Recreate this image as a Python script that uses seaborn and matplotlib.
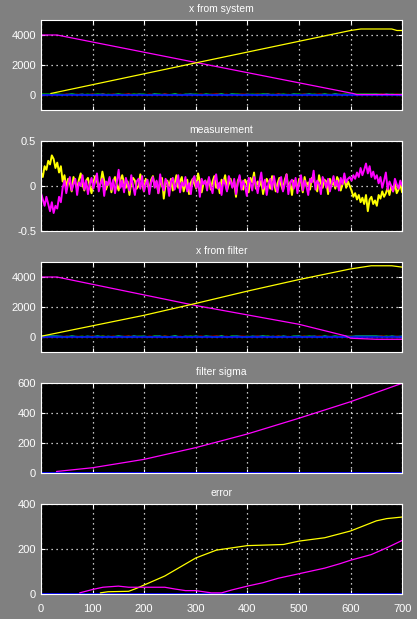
import numpy as np
import matplotlib
matplotlib.use("Agg")
import matplotlib.pyplot as plt
import seaborn as sns

# --- data ------------------------------------------------------------------
# panel 1: x from system
sys_mag_x = [0, 31, 300, 605, 612, 700]
sys_mag_y = [4000, 4000, 2170, 100, 30, 30]
sys_yel_x = [19, 300, 600, 620, 680, 690, 700]
sys_yel_y = [100, 2140, 4300, 4400, 4400, 4300, 4300]
band_x = list(range(0, 701, 10))
sys_grn_y = [55, 55, 55, 55, 40, 10, 55, 30, 5, 50, 20, 60, 0, 45, 15, 55, 35, 5, 60, 25,
             50, 10, 40, 55, 0, 30, 60, 15, 45, 5, 55, 20, 50, 35, 0, 60, 10, 40, 55, 25,
             5, 50, 30, 60, 15, 45, 0, 55, 20, 40, 60, 10, 35, 50, 5, 55, 25, 45, 15, 60,
             30, 55, 55, 55, 55, 50, 40, 10, 55, 30, 50]
sys_red_y = [10, 10, 10, 10, 25, 50, 5, 40, 30, 10, 55, 0, 45, 20, 50, 5, 35, 60, 15, 40,
             0, 50, 20, 5, 55, 25, 10, 45, 0, 35, 15, 55, 5, 40, 60, 20, 45, 0, 30, 50,
             35, 10, 55, 5, 45, 20, 60, 10, 40, 0, 25, 50, 5, 30, 55, 15, 40, 0, 50, 20,
             45, 5, 10, 10, 10, 20, 50, 35, 0, 45, 10]
sys_cyn_y = [30, 30, 30, 30, 5, 35, 45, 15, 50, 0, 35, 25, 55, 5, 30, 45, 10, 40, 0, 50,
             30, 5, 55, 20, 40, 10, 50, 0, 35, 55, 25, 5, 45, 15, 30, 50, 0, 55, 20, 10,
             45, 25, 5, 35, 55, 0, 40, 30, 10, 50, 15, 35, 55, 0, 25, 45, 10, 55, 30, 5,
             40, 20, 30, 30, 30, 40, 15, 55, 20, 5, 35]
sys_blu_x = [0, 700]
sys_blu_y = [20, 20]

# panel 2: measurement (evenly spaced samples over 0..700)
meas_yel = [0.15, 0.1, 0.22, 0.18, 0.28, 0.24, 0.34, 0.3, 0.2, 0.26, 0.15, 0.22,
            0.05, 0.12, -0.02, 0.08, 0.03, -0.06, 0.1, 0.04, -0.03, 0.07,
            0.14, 0.02, -0.05, 0.06, 0.09, 0.0, -0.08, 0.04, 0.11, 0.05,
            -0.02, 0.03, 0.16, 0.06, -0.04, 0.02, 0.08, -0.07, 0.05, 0.1,
            0.01, -0.05, 0.07, 0.12, 0.03, -0.02, 0.05, -0.1, 0.04, 0.09,
            0.06, -0.03, 0.0, 0.13, 0.04, -0.06, 0.08, 0.02, -0.04, 0.07,
            0.11, -0.01, 0.05, -0.08, 0.03, 0.09, -0.14, 0.02, 0.06, 0.0,
            0.08, -0.05, 0.03, 0.12, -0.02, 0.05, 0.1, -0.06, 0.01, 0.07,
            -0.09, 0.04, 0.08, 0.02, -0.03, 0.14, 0.05, -0.07, 0.03, 0.06,
            0.0, 0.09, -0.04, 0.05, 0.11, -0.02, 0.03, -0.08, 0.07, 0.04,
            0.12, -0.05, 0.02, 0.08, -0.01, 0.05, -0.12, 0.06, 0.1, 0.01,
            -0.04, 0.07, 0.03, -0.07, 0.09, 0.04, 0.15, -0.03, 0.05, 0.0,
            0.06, -0.09, 0.02, 0.08, 0.04, -0.03, 0.11, 0.05, -0.06, 0.03,
            0.09, 0.01, -0.05, 0.07, 0.13, -0.02, 0.04, -0.1, 0.06, 0.02,
            -0.03, 0.08, 0.05, -0.07, 0.1, 0.0, 0.04, -0.04, 0.09, 0.06,
            0.02, -0.06, 0.12, 0.03, -0.02, 0.07, 0.05, -0.09, 0.08, 0.01,
            0.04, -0.03, 0.1, 0.06, -0.05, 0.02, 0.08, -0.02, 0.05, 0.0,
            -0.05, -0.12, -0.08, -0.15, -0.1, -0.18, -0.13, -0.2, -0.1, -0.28,
            -0.15, -0.12, -0.2, -0.16, -0.22, -0.1, -0.14, -0.06, -0.12, -0.08,
            -0.02, -0.1, 0.0, -0.06, 0.03, -0.08, -0.04, 0.02, -0.07]
meas_mag = [-0.08, -0.15, -0.22, -0.12, -0.2, -0.28, -0.18, -0.3, -0.22, -0.25, -0.12, -0.18,
            -0.02, 0.06, -0.08, 0.03, 0.1, -0.05, 0.02, 0.08, -0.1, 0.04,
            0.0, 0.12, -0.04, 0.06, -0.09, 0.02, 0.09, -0.03, 0.05, 0.14,
            -0.06, 0.03, 0.08, -0.11, 0.05, 0.01, 0.1, -0.04, 0.07, -0.08,
            0.04, 0.18, -0.02, 0.06, -0.07, 0.09, 0.02, -0.05, 0.12, 0.0,
            -0.1, 0.05, 0.08, -0.03, 0.11, -0.06, 0.02, 0.07, -0.09, 0.04,
            0.1, -0.02, 0.06, -0.08, 0.13, 0.01, -0.05, 0.08, 0.03, -0.11,
            0.05, 0.09, -0.04, 0.02, 0.12, -0.07, 0.04, 0.0, 0.1, -0.06,
            0.03, -0.09, 0.07, 0.11, -0.02, 0.05, -0.12, 0.08, 0.02, 0.06,
            -0.05, 0.1, 0.0, -0.08, 0.06, 0.13, -0.03, 0.04, -0.1, 0.07,
            0.02, -0.06, 0.11, 0.05, -0.02, 0.08, -0.09, 0.03, 0.12, -0.04,
            0.06, 0.0, -0.11, 0.09, 0.04, -0.05, 0.1, 0.02, -0.08, 0.05,
            0.15, -0.03, 0.07, -0.1, 0.03, 0.08, -0.04, 0.11, 0.0, -0.07,
            0.05, 0.1, -0.06, 0.02, 0.13, -0.09, 0.04, 0.07, -0.03, 0.09,
            -0.08, 0.03, 0.12, -0.05, 0.06, 0.0, -0.1, 0.08, 0.04, 0.17,
            -0.04, 0.06, 0.02, -0.09, 0.1, 0.05, -0.02, 0.08, -0.06, 0.03,
            0.11, 0.0, 0.06, -0.05, 0.09, 0.02, 0.14, 0.04, 0.08, 0.1,
            0.06, 0.12, 0.08, 0.15, 0.1, 0.2, 0.12, 0.18, 0.25, 0.14,
            0.22, 0.1, 0.16, 0.08, 0.12, 0.03, 0.1, -0.02, 0.06, 0.15,
            -0.04, 0.05, 0.0, -0.06, 0.08, 0.02, -0.03, 0.06, 0.0]
meas_x_yel = np.linspace(0, 700, len(meas_yel))
meas_x_mag = np.linspace(0, 700, len(meas_mag))

# panel 3: x from filter
flt_mag_x = [0, 31, 300, 500, 590, 600, 650, 700]
flt_mag_y = [4000, 4000, 2100, 850, 80, -80, -150, -150]
flt_yel_x = [0, 100, 200, 300, 400, 500, 600, 640, 680, 700]
flt_yel_y = [50, 750, 1450, 2240, 3060, 3830, 4540, 4750, 4750, 4660]

# panel 4: filter sigma
sig_mag_x = [30, 100, 200, 300, 400, 500, 600, 700]
sig_mag_y = [10, 35, 91, 169, 260, 365, 475, 598]

# panel 5: error
err_yel_x = [115, 130, 170, 185, 200, 240, 270, 300, 340, 370, 400, 470, 500, 550, 600, 650, 670, 700]
err_yel_y = [5, 10, 12, 25, 40, 80, 120, 160, 195, 205, 215, 220, 235, 250, 280, 325, 335, 342]
err_mag_x = [75, 100, 120, 150, 170, 240, 260, 280, 300, 330, 350, 370, 400, 430, 460, 480,
             510, 550, 580, 600, 640, 670, 700]
err_mag_y = [5, 20, 30, 35, 30, 30, 22, 15, 15, 5, 5, 18, 35, 50, 70, 80,
             95, 115, 135, 150, 175, 205, 238]

titles = ["x from system", "measurement", "x from filter", "filter sigma", "error"]
x_ticks = [0, 100, 200, 300, 400, 500, 600, 700]

# --- style ------------------------------------------------------------------
sns.set_style("dark", rc={
    "figure.facecolor": "#808080",
    "axes.facecolor": "black",
    "axes.edgecolor": "white",
    "axes.linewidth": 1.0,
    "xtick.color": "white",
    "ytick.color": "white",
    "text.color": "white",
    "axes.labelcolor": "white",
})
plt.rcParams["font.family"] = ["Liberation Sans", "DejaVu Sans"]

YEL, MAG = "#ffff00", "#ff00ff"
BLU, GRN, RED, CYN = "#0000ff", "#00ff00", "#ff0000", "#00ffff"
LW = 0.9

fig = plt.figure(figsize=(4.17, 6.19), dpi=100)
bottoms = [0.8223, 0.6268, 0.4313, 0.2359, 0.0404]
axes = [fig.add_axes([0.0983, b, 0.866, 0.1454]) for b in bottoms]


def line(ax, x, y, c, lw=LW, **kw):
    sns.lineplot(x=x, y=y, ax=ax, color=c, linewidth=lw, estimator=None, sort=False, **kw)


# x from system
ax = axes[0]
line(ax, band_x, sys_cyn_y, CYN)
line(ax, band_x, sys_red_y, RED)
line(ax, band_x, sys_grn_y, GRN)
line(ax, sys_blu_x, sys_blu_y, BLU, lw=1.2)
line(ax, sys_mag_x, sys_mag_y, MAG)
line(ax, sys_yel_x, sys_yel_y, YEL)
ax.set_ylim(-1000, 5000)
ax.set_yticks([0, 2000, 4000])

# measurement
ax = axes[1]
line(ax, meas_x_yel, meas_yel, YEL, lw=1.4)
line(ax, meas_x_mag, meas_mag, MAG, lw=1.4)
ax.set_ylim(-0.5, 0.5)
ax.set_yticks([-0.5, 0, 0.5])
ax.set_yticklabels(["-0.5", "0", "0.5"])

# x from filter
ax = axes[2]
line(ax, band_x, sys_grn_y, CYN)
line(ax, band_x, sys_red_y, RED)
line(ax, band_x, sys_cyn_y, GRN)
line(ax, sys_blu_x, sys_blu_y, BLU, lw=1.2)
line(ax, flt_mag_x, flt_mag_y, MAG)
line(ax, flt_yel_x, flt_yel_y, YEL)
ax.set_ylim(-1000, 5000)
ax.set_yticks([0, 2000, 4000])

# filter sigma
ax = axes[3]
line(ax, [0, 700], [1, 1], BLU, lw=1.3)
line(ax, sig_mag_x, sig_mag_y, MAG)
ax.set_ylim(0, 600)
ax.set_yticks([0, 200, 400, 600])

# error
ax = axes[4]
line(ax, [0, 700], [1, 1], BLU, lw=1.3)
line(ax, err_yel_x, err_yel_y, YEL)
line(ax, err_mag_x, err_mag_y, MAG)
ax.set_ylim(0, 400)
ax.set_yticks([0, 200, 400])

for i, ax in enumerate(axes):
    ax.set_xlim(0, 700)
    ax.set_xticks(x_ticks)
    if i < 4:
        ax.set_xticklabels([])
    ax.set_title(titles[i], color="white", fontsize=7.5, pad=6)
    ax.set_xlabel("")
    ax.set_ylabel("")
    ax.grid(True, color="white", linestyle=(0, (1, 3)), linewidth=0.9)
    ax.tick_params(direction="in", length=3, width=0.8, labelsize=8,
                   top=True, right=True, bottom=True, left=True, colors="white")
    ax.tick_params(axis="y", pad=3.5)
    ax.tick_params(axis="x", pad=7)
    for s in ax.spines.values():
        s.set_color("white")
        s.set_visible(True)

fig.savefig("out.png", dpi=100, facecolor=fig.get_facecolor())
